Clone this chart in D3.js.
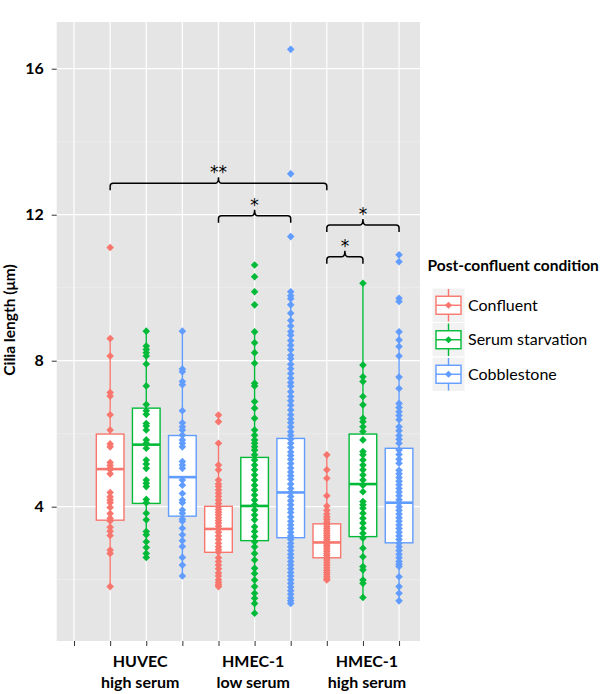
<!DOCTYPE html>
<html>
<head>
<meta charset="utf-8">
<script src="https://cdn.jsdelivr.net/npm/d3@7"></script>
<style>
  html, body { margin: 0; padding: 0; background: #ffffff; }
  svg { display: block; font-family: Lato, "Open Sans", sans-serif; }
</style>
</head>
<body>
<svg id="chart" width="613" height="694"></svg>
<script>
// ---------- data ----------
const groupLabels = [["HUVEC", "high serum"], ["HMEC-1", "low serum"], ["HMEC-1", "high serum"]];
const groupLabelPos = [1.83, 4.96, 8.11];
const conditions = ["Confluent", "Serum starvation", "Cobblestone"];
const colors = ["#F8766D", "#00BA38", "#619CFF"];
const xTicks = [0, 1, 2, 3, 4, 5, 6, 7, 8, 9];
const yTicks = [4, 8, 12, 16];
const yMinor = [2, 6, 10, 14];

// box statistics per series (order: group x condition)
const seriesGroup = [0, 0, 0, 1, 1, 1, 2, 2, 2];
const seriesCond  = [0, 1, 2, 0, 1, 2, 0, 1, 2];
const seriesX     = [1, 2, 3, 4, 5, 6, 7, 8, 9];
const q1     = [3.63, 4.09, 3.74, 2.75, 3.07, 3.15, 2.60, 3.18, 3.01];
const median = [5.03, 5.70, 4.81, 3.39, 4.02, 4.39, 3.02, 4.62, 4.11];
const q3     = [5.99, 6.70, 5.95, 4.01, 5.35, 5.87, 3.53, 5.99, 5.60];
const whiskLo = [1.81, 2.61, 2.10, 1.81, 1.08, 1.35, 1.99, 1.51, 1.42];
const whiskHi = [8.61, 8.81, 8.81, 5.74, 8.75, 9.89, 5.42, 10.12, 8.79];

// individual measurements
const huvecConfluent = [11.1, 8.61, 8.13, 7.13, 7.03, 6.52, 6.10, 5.72, 5.64, 5.21, 5.13, 5.05, 5.02, 4.9, 4.39, 4.27, 4.18, 4.11, 3.98, 3.81, 3.68, 3.61, 3.44, 3.33, 3.21, 2.81, 2.72, 1.81];
const huvecSerum = [8.81, 8.40, 8.31, 8.22, 8.13, 7.91, 7.31, 6.80, 6.63, 6.53, 6.28, 6.21, 6.10, 5.83, 5.74, 5.60, 5.28, 5.17, 5.05, 4.73, 4.64, 4.55, 4.20, 4.11, 3.82, 3.64, 3.32, 3.23, 3.04, 2.88, 2.72, 2.61];
const huvecCobble = [8.81, 7.77, 7.70, 7.43, 7.34, 6.63, 6.30, 6.19, 6.10, 5.96, 5.83, 5.74, 5.64, 5.24, 5.14, 5.05, 4.73, 4.59, 4.36, 4.18, 4.11, 3.91, 3.82, 3.66, 3.60, 3.41, 3.23, 3.07, 2.91, 2.61, 2.40, 2.10];
const lowConfluent = [6.51, 6.33, 5.74, 5.14, 5.01, 4.73, 4.62, 4.55, 4.46, 4.37, 4.28, 4.18, 4.09, 4.0, 3.92, 3.85, 3.78, 3.70, 3.62, 3.55, 3.47, 3.39, 3.30, 3.2, 3.1, 3.0, 2.9, 2.82, 2.75, 2.6, 2.5, 2.4, 2.3, 2.18, 2.1, 2.0, 1.92, 1.86, 1.81];
const lowSerum = [10.62, 10.30, 9.89, 9.53, 8.79, 8.49, 8.22, 7.93, 7.38, 7.31, 6.88, 6.70, 6.42, 6.10, 5.96, 5.83, 5.74, 5.64, 5.55, 5.42, 5.28, 5.14, 5.01, 4.87, 4.73, 4.59, 4.46, 4.32, 4.18, 4.05, 3.91, 3.77, 3.64, 3.45, 3.32, 3.18, 3.04, 2.90, 2.72, 2.54, 2.31, 2.17, 1.99, 1.81, 1.63, 1.49, 1.35, 1.08];
const lowCobble = [16.53, 13.12, 11.40, 9.89, 9.78, 9.7, 9.53, 9.3, 9.1, 8.95, 8.8, 8.7, 8.55, 8.42, 8.3, 8.15, 8.05, 7.9, 7.78, 7.65, 7.52, 7.4, 7.3, 7.15, 7.02, 6.9, 6.78, 6.65, 6.52, 6.4, 6.3, 6.18, 6.05, 5.95, 5.85, 5.74, 5.62, 5.5, 5.4, 5.3, 5.18, 5.06, 4.95, 4.85, 4.75, 4.62, 4.5, 4.39, 4.28, 4.16, 4.05, 3.94, 3.84, 3.72, 3.6, 3.5, 3.4, 3.3, 3.2, 3.1, 3.0, 2.9, 2.8, 2.7, 2.6, 2.5, 2.4, 2.3, 2.2, 2.1, 2.0, 1.9, 1.8, 1.7, 1.6, 1.5, 1.42, 1.35];
const highConfluent = [5.42, 5.01, 4.78, 4.30, 4.02, 3.9, 3.8, 3.72, 3.65, 3.58, 3.52, 3.46, 3.4, 3.34, 3.28, 3.22, 3.16, 3.1, 3.05, 3.0, 2.95, 2.9, 2.84, 2.78, 2.72, 2.66, 2.6, 2.54, 2.47, 2.4, 2.33, 2.26, 2.2, 2.14, 2.08, 2.02, 1.99];
const highSerum = [10.12, 7.88, 7.56, 7.43, 7.02, 6.79, 6.42, 6.33, 6.19, 6.06, 5.83, 5.51, 5.42, 5.28, 5.14, 5.01, 4.87, 4.73, 4.59, 4.41, 4.14, 4.05, 3.96, 3.82, 3.68, 3.55, 3.41, 3.27, 3.14, 2.86, 2.63, 2.36, 2.27, 1.99, 1.90, 1.51];
const highCobble = [10.90, 10.71, 9.71, 9.62, 8.79, 8.57, 8.39, 8.13, 7.55, 7.24, 6.83, 6.72, 6.6, 6.5, 6.38, 6.19, 6.08, 5.95, 5.85, 5.74, 5.55, 5.43, 5.3, 5.19, 5.0, 4.9, 4.8, 4.7, 4.6, 4.5, 4.4, 4.3, 4.19, 4.1, 4.0, 3.9, 3.8, 3.7, 3.6, 3.5, 3.4, 3.3, 3.2, 3.1, 3.0, 2.9, 2.8, 2.7, 2.6, 2.5, 2.42, 2.36, 2.08, 1.81, 1.63, 1.42];
const seriesPoints = [huvecConfluent, huvecSerum, huvecCobble, lowConfluent, lowSerum, lowCobble, highConfluent, highSerum, highCobble];

// significance brackets
const bracketFrom = [1, 4, 7, 7];
const bracketTo = [7, 6, 9, 8];
const bracketY = [12.86, 11.97, 11.72, 10.85];
const bracketLabel = ["**", "*", "*", "*"];

// ---------- layout ----------
const svg = d3.select("#chart");
const panel = { left: 56.7, right: 420, top: 22, bottom: 641 };
const x = d3.scaleLinear().domain([-0.48, 9.58]).range([panel.left, panel.right]);
const y = d3.scaleLinear().domain([0.32, 17.28]).range([panel.bottom, panel.top]);
const boxW = 0.765;

// panel background
svg.append("rect")
  .attr("x", panel.left).attr("y", panel.top)
  .attr("width", panel.right - panel.left).attr("height", panel.bottom - panel.top)
  .attr("fill", "#E5E5E5");

const grid = svg.append("g");
grid.selectAll("line.minor").data(yMinor).join("line")
  .attr("x1", panel.left).attr("x2", panel.right)
  .attr("y1", d => y(d)).attr("y2", d => y(d))
  .attr("stroke", "#F2F2F2").attr("stroke-width", 0.6);
grid.selectAll("line.majorY").data(yTicks).join("line")
  .attr("x1", panel.left).attr("x2", panel.right)
  .attr("y1", d => y(d)).attr("y2", d => y(d))
  .attr("stroke", "#ffffff").attr("stroke-width", 1.2);
grid.selectAll("line.majorX").data(xTicks).join("line")
  .attr("y1", panel.top).attr("y2", panel.bottom)
  .attr("x1", d => x(d)).attr("x2", d => x(d))
  .attr("stroke", "#ffffff").attr("stroke-width", 1.2);

// boxes
const boxes = svg.append("g");
const idx = d3.range(seriesX.length);
idx.forEach(i => {
  const c = colors[seriesCond[i]];
  const cx = x(seriesX[i]);
  const g = boxes.append("g");
  g.append("line").attr("x1", cx).attr("x2", cx)
    .attr("y1", y(whiskHi[i])).attr("y2", y(q3[i]))
    .attr("stroke", c).attr("stroke-width", 1.4);
  g.append("line").attr("x1", cx).attr("x2", cx)
    .attr("y1", y(q1[i])).attr("y2", y(whiskLo[i]))
    .attr("stroke", c).attr("stroke-width", 1.4);
  g.append("rect")
    .attr("x", x(seriesX[i] - boxW / 2)).attr("width", x(boxW) - x(0))
    .attr("y", y(q3[i])).attr("height", y(q1[i]) - y(q3[i]))
    .attr("fill", "#ffffff").attr("stroke", c).attr("stroke-width", 1.4);
  g.append("line")
    .attr("x1", x(seriesX[i] - boxW / 2)).attr("x2", x(seriesX[i] + boxW / 2))
    .attr("y1", y(median[i])).attr("y2", y(median[i]))
    .attr("stroke", c).attr("stroke-width", 2.6);
});

// points (diamonds)
const dr = 3.8;
const diamond = (cx, cy, r = dr) => `M${cx},${cy - r}L${cx + r},${cy}L${cx},${cy + r}L${cx - r},${cy}Z`;
const pts = svg.append("g");
idx.forEach(i => {
  pts.selectAll(null).data(seriesPoints[i]).join("path")
    .attr("d", v => diamond(x(seriesX[i]), y(v)))
    .attr("fill", colors[seriesCond[i]]);
});

// axes
const yAxis = svg.append("g").attr("transform", `translate(${panel.left},0)`)
  .call(d3.axisLeft(y).tickValues(yTicks).tickSize(5).tickPadding(8).tickFormat(d3.format("d")));
yAxis.select(".domain").remove();
yAxis.selectAll(".tick line").attr("stroke", "#333333").attr("stroke-width", 1);
yAxis.selectAll(".tick text").attr("fill", "#000").style("font-size", "16px").style("font-weight", "bold")
  .style("font-family", "Lato, sans-serif");

const xAxis = svg.append("g").attr("transform", `translate(0,${panel.bottom})`)
  .call(d3.axisBottom(x).tickValues(xTicks).tickSize(5).tickFormat(""));
xAxis.select(".domain").remove();
xAxis.selectAll(".tick line").attr("stroke", "#333333").attr("stroke-width", 1);

// group labels
const gl = svg.append("g");
groupLabels.forEach((lines, k) => {
  const t = gl.append("text")
    .attr("x", x(groupLabelPos[k])).attr("y", 666.5)
    .attr("text-anchor", "middle")
    .style("font-size", "16px").style("font-weight", "bold").attr("fill", "#000");
  lines.forEach((s, j) => {
    t.append("tspan").attr("x", x(groupLabelPos[k])).attr("dy", j === 0 ? 0 : 21).text(s);
  });
});

// y title
svg.append("text")
  .attr("transform", `translate(15,320) rotate(-90)`)
  .attr("text-anchor", "middle")
  .style("font-size", "15.5px").style("font-weight", "bold").attr("fill", "#000")
  .text("Cilia length (μm)");

// brackets
const br = svg.append("g");
bracketFrom.forEach((f, k) => {
  const x1 = x(f), x2 = x(bracketTo[k]), xm = (x1 + x2) / 2, yy = y(bracketY[k]);
  const p = `M${x1},${yy + 7} L${x1},${yy + 3} Q${x1},${yy} ${x1 + 3},${yy} L${xm - 3},${yy} Q${xm},${yy} ${xm},${yy - 6} Q${xm},${yy} ${xm + 3},${yy} L${x2 - 3},${yy} Q${x2},${yy} ${x2},${yy + 3} L${x2},${yy + 7}`;
  br.append("path").attr("d", p).attr("fill", "none").attr("stroke", "#000").attr("stroke-width", 1.5);
  br.append("text").attr("x", xm).attr("y", yy - 5)
    .attr("text-anchor", "middle")
    .style("font-size", "17px").style("font-family", "'DejaVu Sans', sans-serif").attr("fill", "#000")
    .text(bracketLabel[k]);
});

// legend
const lg = svg.append("g");
lg.append("text").attr("x", 427.5).attr("y", 271)
  .style("font-size", "15.5px").style("font-weight", "bold").attr("fill", "#000")
  .text("Post-confluent condition");
const keyX = 432, keyTop = 288, keyH = 34.5, keyW = 33;
conditions.forEach((name, k) => {
  const ty = keyTop + k * keyH;
  const c = colors[k];
  const cx = keyX + keyW / 2, cy = ty + keyH / 2;
  const g = lg.append("g");
  g.append("rect").attr("x", keyX).attr("y", ty).attr("width", keyW).attr("height", keyH)
    .attr("fill", "#F2F2F2").attr("stroke", "#ffffff").attr("stroke-width", 1);
  g.append("line").attr("x1", cx).attr("x2", cx).attr("y1", ty + 1).attr("y2", ty + keyH - 1)
    .attr("stroke", c).attr("stroke-width", 1.4);
  g.append("rect").attr("x", keyX + 4).attr("y", cy - 9).attr("width", keyW - 8).attr("height", 18)
    .attr("fill", "#ffffff").attr("stroke", c).attr("stroke-width", 1.4);
  g.append("line").attr("x1", keyX + 4).attr("x2", keyX + keyW - 4).attr("y1", cy).attr("y2", cy)
    .attr("stroke", c).attr("stroke-width", 1.4);
  g.append("path").attr("d", diamond(cx, cy, 3.6)).attr("fill", c);
  g.append("text").attr("x", 468).attr("y", cy).attr("dy", "0.35em")
    .style("font-size", "16px").attr("fill", "#000").text(name);
});
</script>
</body>
</html>
